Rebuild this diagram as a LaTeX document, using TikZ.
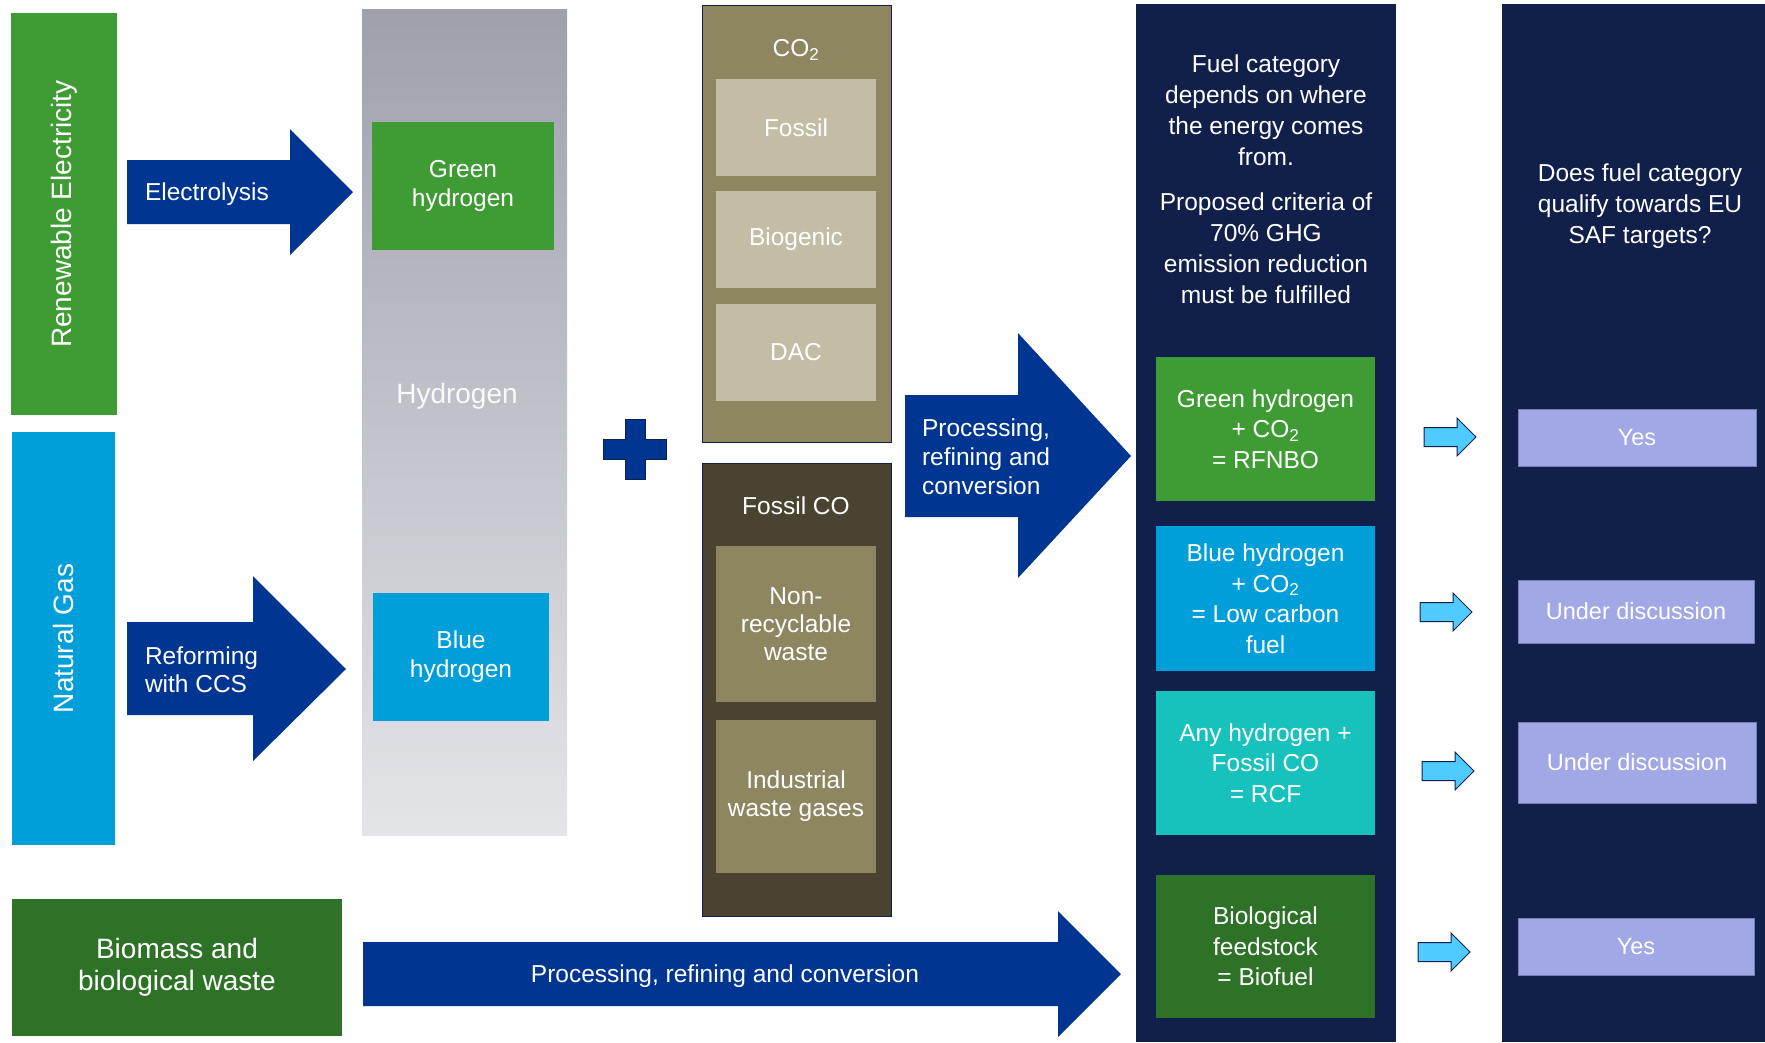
\documentclass[tikz,border=0pt]{standalone}
\usepackage{fontspec}
\setmainfont{Liberation Sans}
\definecolor{regreen}{HTML}{3F9C35}
\definecolor{gasblue}{HTML}{009FDA}
\definecolor{biogreen}{HTML}{2E7228}
\definecolor{arrowblue}{HTML}{003591}
\definecolor{hydtop}{HTML}{9EA0AC}
\definecolor{hydbot}{HTML}{E4E5E9}
\definecolor{cotwo}{HTML}{8E8660}
\definecolor{cotwolight}{HTML}{C3BDA6}
\definecolor{fossilco}{HTML}{4A4332}
\definecolor{panelnavy}{HTML}{111F4B}
\definecolor{rcfteal}{HTML}{17C1BC}
\definecolor{answer}{HTML}{A1A8E5}
\definecolor{smallarrow}{HTML}{4FCBFF}

\begin{document}
\begin{tikzpicture}[x=1pt,y=-1pt,
    box/.style={inner sep=0pt,outer sep=0pt,text=white,align=center,
      font=\fontsize{24.5}{29}\selectfont},
    big/.style={font=\fontsize{28}{32}\selectfont},
    fuelbox/.style={box,minimum width=219pt},
    answerbox/.style={box,fill=answer,draw=answer!75!black,line width=.6pt,
      font=\fontsize{23.5}{28}\selectfont}]
    % page and margins
    \useasboundingbox (0,0) rectangle (1765,1042);
    \fill[white] (0,0) rectangle (1765,1042);
    % Draw the sources
    \node[box,big,fill=regreen,rotate=90,minimum width=402pt,minimum height=106pt] (renew) at (64,214) {Renewable Electricity};
    \node[box,big,fill=gasblue,rotate=90,minimum width=413pt,minimum height=103pt] (gas) at (63.5,638.5) {Natural Gas};
    \node[box,big,fill=biogreen,minimum width=330pt,minimum height=137pt] (biomass) at (177,967.5) {Biomass and\\biological waste};
    % Draw the hydrogen column
    \node[box,top color=hydtop,bottom color=hydbot,minimum width=205pt,minimum height=826pt] (hyd) at (464.5,422) {};
    \node[box,big,text=white!96!gray] (hydlabel) at (457,396) {Hydrogen};
    \node[box,fill=regreen,minimum width=182pt,minimum height=128pt] (greenh) at (463,186) {Green\\hydrogen};
    \node[box,fill=gasblue,minimum width=176pt,minimum height=128pt] (blueh) at (461,657) {Blue\\hydrogen};
    % Draw the block arrows and label them
    \fill[arrowblue] (127,160) -- (290,160) -- (290,129) -- (353,192) -- (290,255) -- (290,224) -- (127,224) -- cycle;
    \node[box,anchor=west,align=left] (electro) at (145,194) {Electrolysis};
    \fill[arrowblue] (127,622) -- (253,622) -- (253,576) -- (346,669) -- (253,761) -- (253,715) -- (127,715) -- cycle;
    \node[box,anchor=west,align=left,font=\fontsize{24.5}{28}\selectfont] (reform) at (145,670) {Reforming\\with CCS};
    \fill[arrowblue] (905,395) -- (1018,395) -- (1018,333) -- (1131,456) -- (1018,578) -- (1018,517) -- (905,517) -- cycle;
    \node[box,anchor=west,align=left] (process) at (922,457) {Processing,\\refining and\\conversion};
    \fill[arrowblue] (363,942) -- (1058,942) -- (1058,911) -- (1121,974) -- (1058,1037) -- (1058,1006) -- (363,1006) -- cycle;
    \node[box] (processbio) at (725,976) {Processing, refining and conversion};
    % Draw the plus sign
    \filldraw[fill=arrowblue,draw=panelnavy,line width=.8pt] (603,439) -- (625,439) -- (625,419) -- (645,419) -- (645,439) -- (666,439)
      -- (666,459) -- (645,459) -- (645,479) -- (625,479) -- (625,459) -- (603,459) -- cycle;
    % Draw the carbon sources
    \node[box,fill=cotwo,draw=panelnavy,line width=1pt,minimum width=189pt,minimum height=437pt] (co2) at (796.5,223.5) {};
    \node[box] (co2label) at (796,50) {CO\textsubscript{2}};
    \foreach \name/\txt/\y in {fossil/Fossil/127.5, biogenic/Biogenic/239.5, dac/DAC/352.5}{
      \node[box,fill=cotwolight,minimum width=160pt,minimum height=97pt] (\name) at (796,\y) {\txt};
    }
    \node[box,fill=fossilco,draw=panelnavy,line width=1pt,minimum width=189pt,minimum height=453pt] (co) at (796.5,689.5) {};
    \node[box] (colabel) at (796,506) {Fossil CO};
    \node[box,fill=cotwo,minimum width=160pt,minimum height=156pt,font=\fontsize{24.5}{28}\selectfont] (nonrec) at (796,624) {Non-\\recyclable\\waste};
    \node[box,fill=cotwo,minimum width=160pt,minimum height=153pt,font=\fontsize{24.5}{28}\selectfont] (indus) at (796,796.5) {Industrial\\waste gases};
    % Draw the fuel category panel
    \node[box,fill=panelnavy,minimum width=260pt,minimum height=1038pt] (fuelpanel) at (1266,523) {};
    \node[box,font=\fontsize{24.5}{31}\selectfont] (fueltext) at (1266,179) {Fuel category\\depends on where\\the energy comes\\from.\\[14pt]Proposed criteria of\\70\% GHG\\emission reduction\\must be fulfilled};
    \node[fuelbox,fill=regreen,minimum height=144pt,font=\fontsize{24.5}{30.5}\selectfont] (rfnbo) at (1265.5,429) {Green hydrogen\\+ CO\textsubscript{2}\\= RFNBO};
    \node[fuelbox,fill=gasblue,minimum height=145pt,font=\fontsize{24.5}{30.5}\selectfont] (lowcarbon) at (1265.5,598.5) {Blue hydrogen\\+ CO\textsubscript{2}\\= Low carbon\\fuel};
    \node[fuelbox,fill=rcfteal,minimum height=144pt,font=\fontsize{24.5}{30.5}\selectfont] (rcf) at (1265.5,763) {Any hydrogen +\\Fossil CO\\= RCF};
    \node[fuelbox,fill=biogreen,minimum height=143pt,font=\fontsize{24.5}{30.5}\selectfont] (biofuel) at (1265.5,946.5) {Biological\\feedstock\\= Biofuel};
    % Draw the SAF target panel
    \node[box,fill=panelnavy,minimum width=263pt,minimum height=1038pt] (safpanel) at (1633.5,523) {};
    \node[box,font=\fontsize{24.5}{31}\selectfont] (saftext) at (1640,206) {Does fuel category\\qualify towards EU\\SAF targets?};
    \node[answerbox,minimum width=238pt,minimum height=57pt] (yesone) at (1637,437.5) {Yes};
    \node[answerbox,minimum width=236pt,minimum height=63pt] (discone) at (1636,611.5) {Under discussion};
    \node[answerbox,minimum width=238pt,minimum height=81pt] (disctwo) at (1637,762.5) {Under discussion};
    \node[answerbox,minimum width=236pt,minimum height=57pt] (yestwo) at (1636,946.5) {Yes};
    % Draw the small arrows
    \foreach \x/\y in {1424/437, 1420/612, 1422/771, 1418/952}{
      \filldraw[fill=smallarrow,draw=panelnavy,line width=1pt] (\x,\y-9.5) -- ++(33,0) -- ++(0,-9.5) -- ++(19,19)
        -- ++(-19,19) -- ++(0,-9.5) -- ++(-33,0) -- cycle;
    }
\end{tikzpicture}
\end{document}
